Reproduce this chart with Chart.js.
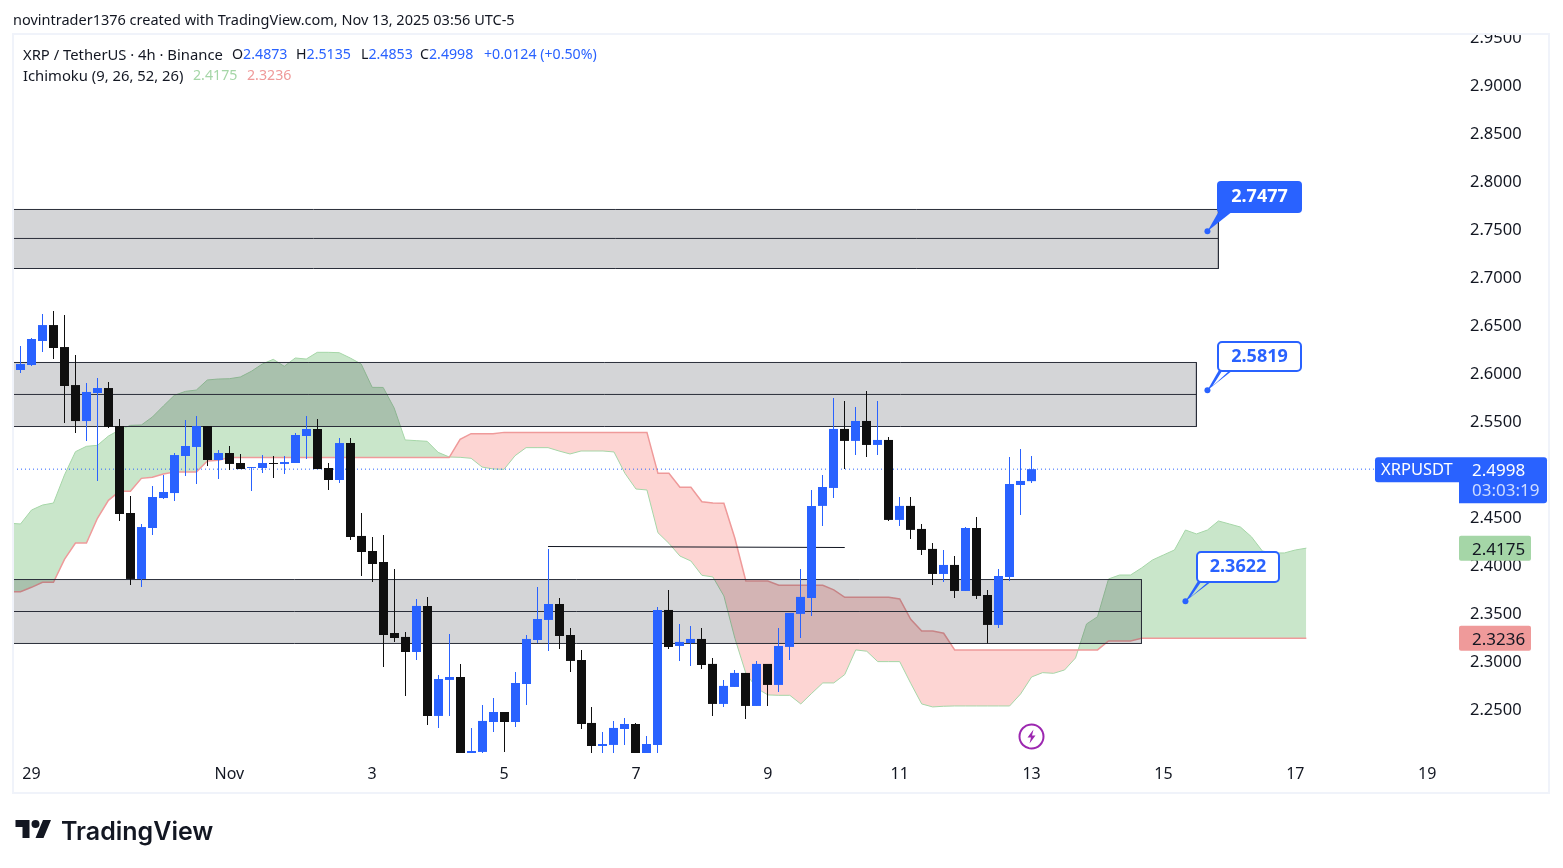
<!DOCTYPE html>
<html>
<head>
<meta charset="utf-8">
<title>XRPUSDT 4h</title>
<script src="https://cdn.jsdelivr.net/npm/chart.js@4"></script>
<style>
  html, body { margin: 0; padding: 0; background: #fff; }
  body { width: 1563px; height: 868px; position: relative; overflow: hidden; font-family: "Noto Sans", sans-serif; color: #131722; }
  #wrap { position: absolute; left: 0; top: 0; width: 1563px; height: 868px; }
  #frame { position: absolute; left: 12px; top: 33px; width: 1538px; height: 761px; box-sizing: border-box; border: 2px solid #f0f3fa; pointer-events: none; }
  #mask { position: absolute; left: 1459px; top: 20px; width: 91px; height: 13px; background: #fff; }
  .t { position: absolute; white-space: pre; font-size: 14.2px; line-height: 18px; }
  .lbl { font-size: 14.8px; }
  .blue { color: #2962ff; }
  #bolt { position: absolute; left: 1018px; top: 723px; }
  #logo { position: absolute; left: 15px; top: 816px; }
  #logotext { position: absolute; left: 61px; top: 815px; font-family: Inter, sans-serif; font-weight: 600; font-size: 25px; line-height: 32px; color: #131722; }
</style>
</head>
<body>
<div id="wrap"><canvas id="myChart" width="1563" height="868"></canvas></div>
<div id="mask"></div>
<div id="frame"></div>

<div class="t" style="left:13px;top:10px;font-size:14.5px">novintrader1376 created with TradingView.com, Nov 13, 2025 03:56 UTC-5</div>
<div class="t lbl" style="left:23px;top:45px">XRP / TetherUS · 4h · Binance</div>
<div class="t" style="left:232px;top:45px">O<span class="blue">2.4873</span></div>
<div class="t" style="left:296px;top:45px">H<span class="blue">2.5135</span></div>
<div class="t" style="left:361px;top:45px">L<span class="blue">2.4853</span></div>
<div class="t" style="left:420px;top:45px">C<span class="blue">2.4998</span></div>
<div class="t blue" style="left:484px;top:45px">+0.0124 (+0.50%)</div>
<div class="t lbl" style="left:23px;top:66px">Ichimoku (9, 26, 52, 26)</div>
<div class="t" style="left:193px;top:66px;color:#a5d6a7">2.4175</div>
<div class="t" style="left:247px;top:66px;color:#ef9a9a">2.3236</div>

<svg id="bolt" width="27" height="27" viewBox="0 0 27 27">
  <circle cx="13.5" cy="13.5" r="12" fill="#fff" stroke="#9c27b0" stroke-width="2"/>
  <path d="M15.5 6.5 L9.5 14.5 L13 14.5 L11.5 20.5 L17.5 12.5 L14 12.5 Z" fill="#9c27b0"/>
</svg>
<svg id="logo" width="37" height="28" viewBox="0 0 36 28" fill="#131722">
  <path d="M14 22H7V11H0V4h14v18zM28 22h-8l7.5-18h8L28 22z"/><circle cx="20" cy="8" r="4"/>
</svg>
<div id="logotext">TradingView</div>

<script>
// candles start at bar -1, bar 0 is the 29th
const firstCandle = -1;
const opens = [
  2.6031,2.6083,2.6333,2.6499,2.6270,2.5874,2.5499,2.5791,2.5843,2.5447,
  2.4541,2.3854,2.4385,2.4697,2.4749,2.5135,2.5229,2.5447,2.5093,2.5166,
  2.5062,2.5010,2.5010,2.5062,2.5052,2.5062,2.5343,2.5416,2.5010,2.4885,
  2.5270,2.4302,2.4145,2.4031,2.3291,2.3250,2.3093,2.3573,2.2427,2.2802,
  2.2833,2.2041,2.2052,2.2364,2.2468,2.2364,2.2760,2.3218,2.3427,2.3593,
  2.3270,2.3010,2.2354,2.2114,2.2125,2.2291,2.2343,2.2020,2.2125,2.3531,
  2.3156,2.3187,2.3229,2.2969,2.2552,2.2729,2.2875,2.2531,2.2969,2.2750,
  2.3146,2.3490,2.3656,2.4615,2.4802,2.5417,2.5292,2.5500,2.5250,2.5302,
  2.4469,2.4615,2.4375,2.4167,2.3906,2.4000,2.3729,2.4385,2.3687,2.3375,
  2.3875,2.4833,2.4873
];
const highs = [
  2.6281,2.6364,2.6614,2.6645,2.6604,2.6187,2.5895,2.5947,2.5906,2.5520,
  2.4718,2.4427,2.4822,2.4937,2.5166,2.5510,2.5552,2.5447,2.5197,2.5239,
  2.5156,2.5020,2.5145,2.5135,2.5135,2.5374,2.5552,2.5520,2.5062,2.5322,
  2.5322,2.4541,2.4291,2.4312,2.3958,2.3302,2.3645,2.3666,2.2854,2.3281,
  2.2968,2.2302,2.2541,2.2614,2.2468,2.2885,2.3270,2.3770,2.4166,2.3656,
  2.3343,2.3114,2.2520,2.2260,2.2375,2.2406,2.2354,2.2218,2.3562,2.3739,
  2.3385,2.3364,2.3343,2.3031,2.2802,2.2906,2.2875,2.3000,2.2969,2.3344,
  2.3500,2.3958,2.4781,2.4937,2.5740,2.5708,2.5646,2.5812,2.5708,2.5333,
  2.4708,2.4708,2.4427,2.4229,2.4156,2.4094,2.4396,2.4500,2.3740,2.3958,
  2.5125,2.5208,2.5135
];
const lows = [
  2.5999,2.6072,2.6218,2.6145,2.5479,2.5374,2.5291,2.4874,2.5427,2.4458,
  2.3791,2.3770,2.4312,2.4687,2.4666,2.4927,2.4843,2.5031,2.4895,2.4989,
  2.4999,2.4770,2.4958,2.4906,2.4947,2.5062,2.5104,2.4999,2.4781,2.4854,
  2.4260,2.3885,2.3822,2.2937,2.3198,2.2635,2.3010,2.2333,2.2302,2.2427,
  2.2000,2.2000,2.2000,2.2260,2.2052,2.2312,2.2541,2.3187,2.3104,2.3125,
  2.2885,2.2291,2.2020,2.2020,2.2020,2.2125,2.2000,2.2000,2.2020,2.3125,
  2.3000,2.2948,2.2916,2.2427,2.2521,2.2729,2.2396,2.2531,2.2531,2.2677,
  2.3010,2.3240,2.3469,2.4406,2.4698,2.5000,2.5146,2.5125,2.5146,2.4458,
  2.4406,2.4271,2.4104,2.3792,2.3823,2.3656,2.3729,2.3646,2.3184,2.3344,
  2.3833,2.4521,2.4853
];
const closes = [
  2.6093,2.6354,2.6499,2.6260,2.5864,2.5499,2.5802,2.5843,2.5437,2.4531,
  2.3854,2.4395,2.4708,2.4760,2.5145,2.5239,2.5447,2.5093,2.5166,2.5052,
  2.4999,2.5020,2.5062,2.5052,2.5072,2.5354,2.5416,2.4999,2.4885,2.5270,
  2.4291,2.4135,2.4010,2.3270,2.3239,2.3093,2.3573,2.2427,2.2812,2.2833,
  2.2020,2.2062,2.2375,2.2468,2.2364,2.2770,2.3229,2.3437,2.3593,2.3260,
  2.3000,2.2343,2.2114,2.2135,2.2302,2.2343,2.2020,2.2135,2.3531,2.3145,
  2.3198,2.3229,2.2958,2.2552,2.2740,2.2875,2.2531,2.2969,2.2750,2.3156,
  2.3500,2.3667,2.4615,2.4812,2.5417,2.5292,2.5500,2.5250,2.5302,2.4469,
  2.4615,2.4365,2.4156,2.3906,2.4000,2.3729,2.4385,2.3677,2.3375,2.3885,
  2.4844,2.4875,2.4998
];

// ichimoku cloud edges start at bar -2 and run 25 bars past the last candle
const firstCloud = -2;
const spanA = [
  2.4434,
  2.4427,2.4572,2.4624,2.4645,2.4937,2.5180,2.5236,2.5246,2.5343,2.5406,
  2.5454,2.5458,2.5541,2.5656,2.5767,2.5808,2.5822,2.5927,2.5937,2.5940,
  2.5958,2.6017,2.6093,2.6142,2.6069,2.6156,2.6145,2.6215,2.6215,2.6211,
  2.6156,2.6093,2.5850,2.5849,2.5635,2.5302,2.5295,2.5288,2.5173,2.5125,
  2.5121,2.5111,2.5020,2.5000,2.4996,2.5138,2.5222,2.5222,2.5222,2.5187,
  2.5156,2.5187,2.5187,2.5187,2.5177,2.4954,2.4791,2.4781,2.4336,2.4225,
  2.4093,2.4041,2.3892,2.3875,2.3677,2.3236,2.2871,2.2715,2.2646,2.2642,
  2.2642,2.2552,2.2663,2.2771,2.2771,2.2858,2.3115,2.3101,2.2993,2.2993,
  2.2993,2.2767,2.2552,2.2521,2.2528,2.2531,2.2531,2.2531,2.2531,2.2531,
  2.2531,2.2656,2.2833,2.2878,2.2871,2.2906,2.3031,2.3385,2.3461,2.3854,
  2.3895,2.3895,2.3968,2.4052,2.4104,2.4156,2.4364,2.4323,2.4364,2.4458,
  2.4427,2.4395,2.4294,2.4145,2.4125,2.4125,2.4156,2.4175
];
const spanB = [
  2.3722,
  2.3722,2.3767,2.3819,2.3819,2.4058,2.4229,2.4229,2.4486,2.4673,2.4767,
  2.4767,2.4902,2.4913,2.4947,2.4968,2.4968,2.4968,2.5083,2.5090,2.5119,
  2.5119,2.5119,2.5119,2.5119,2.5119,2.5119,2.5119,2.5119,2.5119,2.5119,
  2.5119,2.5119,2.5119,2.5119,2.5119,2.5119,2.5119,2.5119,2.5119,2.5119,
  2.5309,2.5368,2.5368,2.5368,2.5381,2.5381,2.5381,2.5381,2.5381,2.5381,
  2.5381,2.5381,2.5381,2.5381,2.5381,2.5381,2.5381,2.5381,2.4954,2.4954,
  2.4809,2.4809,2.4659,2.4645,2.4642,2.4278,2.3833,2.3833,2.3833,2.3788,
  2.3788,2.3788,2.3788,2.3788,2.3740,2.3663,2.3663,2.3663,2.3663,2.3663,
  2.3646,2.3434,2.3312,2.3312,2.3288,2.3115,2.3115,2.3115,2.3115,2.3115,
  2.3115,2.3115,2.3115,2.3115,2.3115,2.3115,2.3115,2.3115,2.3115,2.3208,
  2.3208,2.3208,2.3236,2.3236,2.3236,2.3236,2.3236,2.3236,2.3236,2.3236,
  2.3236,2.3236,2.3236,2.3236,2.3236,2.3236,2.3236,2.3236
];

// grey boxes: top, middle, bottom price and the bar where they stop
const zoneTops = [2.7703, 2.6109, 2.3848];
const zoneMids = [2.7401, 2.5776, 2.3515];
const zoneBottoms = [2.7088, 2.5442, 2.3182];
const zoneEnds = [108, 106, 101];

// the thin line over the middle of the chart
const trendBars = [47, 74];
const trendPrices = [2.4192, 2.4182];

const lastPrice = 2.4998;
const countdown = '03:03:19';
const symbol = 'XRPUSDT';
const ichiA = 2.4175;
const ichiB = 2.3236;

const calloutPrices = [2.7477, 2.5819, 2.3622];
const calloutBars = [107, 107, 105];

const priceTicks = [2.25,2.30,2.35,2.40,2.45,2.50,2.55,2.60,2.65,2.70,2.75,2.80,2.85,2.90,2.95];
const dateTickBars = [0, 18, 31, 43, 55, 67, 79, 91, 103, 115, 127];
const dateTickLabels = ['29', 'Nov', '3', '5', '7', '9', '11', '13', '15', '17', '19'];

const BLUE = '#2962ff';
const BLACK = '#0f0f0f';
const FONT = '"Noto Sans", sans-serif';
const X_MIN = -1.683, X_MAX = 129.89;
const Y_MIN = 2.2041, Y_MAX = 2.9531;

function candleColor(ctx) {
  const i = ctx.dataIndex;
  return closes[i] >= opens[i] ? BLUE : BLACK;
}

const wickData = highs.map((h, i) => ({ x: firstCandle + i, y: [lows[i], h] }));
const bodyData = opens.map((o, i) => ({ x: firstCandle + i, y: [Math.min(o, closes[i]), Math.max(o, closes[i])] }));
const spanAData = spanA.map((v, i) => ({ x: firstCloud + i, y: v }));
const spanBData = spanB.map((v, i) => ({ x: firstCloud + i, y: v }));

const datasets = [];

datasets.push({
  type: 'line', data: spanAData, order: 20, borderColor: '#a5d6a7', borderWidth: 1, pointRadius: 0, tension: 0,
  fill: { target: '+1', above: 'rgba(165,214,167,0.6)', below: 'rgba(247,80,70,0.24)' }
});
datasets.push({
  type: 'line', data: spanBData, order: 19, borderColor: '#ef9a9a', borderWidth: 1.5, pointRadius: 0, tension: 0, fill: false
});

zoneTops.forEach((top, z) => {
  datasets.push({
    type: 'line', order: 10, borderColor: '#2a2e39', borderWidth: 1, pointRadius: 0, tension: 0,
    backgroundColor: 'rgba(42,46,57,0.2)', fill: 'shape',
    data: [
      { x: X_MIN - 1, y: top },
      { x: zoneEnds[z], y: top },
      { x: zoneEnds[z], y: zoneBottoms[z] },
      { x: X_MIN - 1, y: zoneBottoms[z] }
    ]
  });
  datasets.push({
    type: 'line', order: 9, borderColor: '#2a2e39', borderWidth: 1, pointRadius: 0, tension: 0, fill: false,
    data: [{ x: X_MIN - 1, y: zoneMids[z] }, { x: zoneEnds[z], y: zoneMids[z] }]
  });
});

datasets.push({
  type: 'line', order: 8, borderColor: '#131722', borderWidth: 1.2, pointRadius: 0, tension: 0, fill: false,
  data: trendBars.map((b, i) => ({ x: b, y: trendPrices[i] }))
});
datasets.push({
  type: 'line', order: 7, borderColor: BLUE, borderWidth: 1, borderDash: [1, 3], pointRadius: 0, fill: false,
  data: [{ x: X_MIN, y: lastPrice }, { x: X_MAX, y: lastPrice }]
});

datasets.push({
  type: 'bar', data: wickData, order: 2, barThickness: 1, grouped: false, inflateAmount: 0,
  backgroundColor: candleColor
});
datasets.push({
  type: 'bar', data: bodyData, order: 1, barThickness: 9, grouped: false, inflateAmount: 0,
  backgroundColor: candleColor
});

function box(ctx, x, y, w, h, r, fill, stroke) {
  ctx.beginPath();
  ctx.roundRect(x, y, w, h, r);
  if (fill) { ctx.fillStyle = fill; ctx.fill(); }
  if (stroke) { ctx.strokeStyle = stroke; ctx.lineWidth = 2; ctx.stroke(); }
}

// keep candles on whole pixels so the wicks stay sharp
const snapPlugin = {
  id: 'snap',
  afterDatasetsUpdate(chart) {
    chart.getSortedVisibleDatasetMetas().forEach(meta => {
      if (meta.type !== 'bar') return;
      meta.data.forEach(el => { el.x = Math.floor(el.x) + 0.5; });
    });
  }
};

// value tags on the price axis and the three blue callouts
const overlayPlugin = {
  id: 'overlay',
  afterDraw(chart) {
    const ctx = chart.ctx;
    const xs = chart.scales.x, ys = chart.scales.y;
    const axisX = chart.chartArea.right;
    ctx.save();
    ctx.textBaseline = 'middle';
    ctx.textAlign = 'left';

    // callouts
    const sizes = [[1217, 181, 85, 32], [1217, 341, 85, 31], [1196, 551, 84, 32]];
    calloutPrices.forEach((p, i) => {
      const dx = xs.getPixelForValue(calloutBars[i]);
      const dy = ys.getPixelForValue(p);
      const s = sizes[i];
      const filled = i === 0;
      ctx.beginPath();
      ctx.moveTo(dx, dy);
      ctx.lineTo(s[0] + 2, s[1] + s[3] - 2);
      ctx.lineTo(s[0] + 16, s[1] + s[3] - 2);
      ctx.closePath();
      ctx.fillStyle = BLUE;
      ctx.fill();
      if (!filled) {
        ctx.beginPath();
        ctx.moveTo(dx + 5, dy - 4);
        ctx.lineTo(s[0] + 5, s[1] + s[3] - 1);
        ctx.lineTo(s[0] + 12, s[1] + s[3] - 1);
        ctx.closePath();
        ctx.fillStyle = i === 1 ? '#fff' : '#c8e6ca';
        ctx.fill();
      }
      if (filled) {
        box(ctx, s[0], s[1], s[2], s[3], 4, BLUE);
      } else {
        box(ctx, s[0] + 1, s[1] + 1, s[2] - 2, s[3] - 2, 4, '#fff', BLUE);
      }
      ctx.beginPath();
      ctx.arc(dx, dy, 3, 0, Math.PI * 2);
      ctx.fillStyle = BLUE;
      ctx.fill();
      ctx.font = 'bold 18px ' + FONT;
      ctx.fillStyle = filled ? '#fff' : BLUE;
      ctx.textAlign = 'center';
      ctx.fillText(p.toFixed(4), s[0] + s[2] / 2, s[1] + s[3] / 2);
      ctx.textAlign = 'left';
    });

    // price tags
    const py = ys.getPixelForValue(lastPrice);
    box(ctx, 1375, py - 12, 84, 25, [3, 0, 0, 3], BLUE);
    box(ctx, axisX, py - 12, 88, 46, [0, 3, 3, 0], BLUE);
    ctx.font = '16.5px ' + FONT;
    ctx.fillStyle = '#fff';
    ctx.fillText(symbol, 1381, py + 1);
    ctx.font = '17px ' + FONT;
    ctx.fillText(lastPrice.toFixed(4), 1472, py + 2);
    ctx.fillStyle = '#cfdcff';
    ctx.fillText(countdown, 1472, py + 22);

    const ay = ys.getPixelForValue(ichiA);
    box(ctx, axisX, ay - 12.5, 72, 25, 2, '#a5d6a7');
    ctx.fillStyle = '#131722';
    ctx.fillText(ichiA.toFixed(4), 1472, ay + 2);

    const by = ys.getPixelForValue(ichiB);
    box(ctx, axisX, by - 12.5, 72, 25, 2, '#ef9a9a');
    ctx.fillStyle = '#131722';
    ctx.fillText(ichiB.toFixed(4), 1472, by + 2);
    ctx.restore();
  }
};

new Chart('myChart', {
  type: 'bar',
  data: { datasets: datasets },
  plugins: [snapPlugin, overlayPlugin],
  options: {
    responsive: false,
    animation: false,
    devicePixelRatio: 1,
    layout: { padding: { left: 13, top: 34, right: 13, bottom: 75 } },
    plugins: { legend: { display: false }, tooltip: { enabled: false } },
    scales: {
      x: {
        type: 'linear', offset: false, min: X_MIN, max: X_MAX,
        grid: { display: false, drawTicks: false }, border: { display: false },
        afterFit(scale) { scale.height = 40; },
        afterBuildTicks(scale) { scale.ticks = dateTickBars.map(v => ({ value: v })); },
        ticks: {
          padding: 12, maxRotation: 0, autoSkip: false, color: '#131722',
          font: { family: FONT, size: 16 },
          callback(value) { return dateTickLabels[dateTickBars.indexOf(value)]; }
        }
      },
      y: {
        type: 'linear', position: 'right', min: Y_MIN, max: Y_MAX,
        grid: { display: false, drawTicks: false }, border: { display: false },
        afterFit(scale) { scale.width = 91; },
        afterBuildTicks(scale) { scale.ticks = priceTicks.map(v => ({ value: v })); },
        ticks: {
          padding: 11, labelOffset: 1, color: '#131722', font: { family: FONT, size: 16.5 },
          callback(value) { return value.toFixed(4); }
        }
      }
    }
  }
});
</script>
</body>
</html>
